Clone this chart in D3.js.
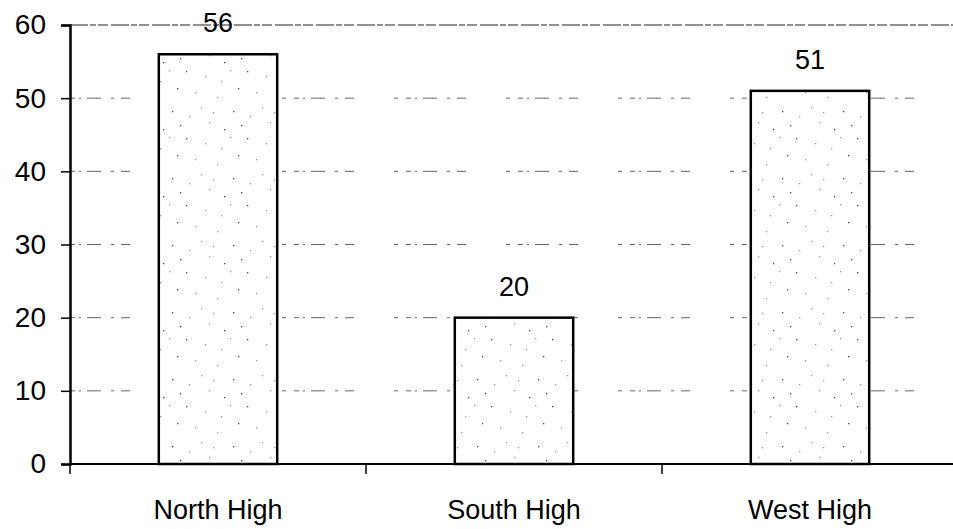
<!DOCTYPE html>
<html><head><meta charset="utf-8">
<script src="https://cdn.jsdelivr.net/npm/d3@7"></script>
<style>html,body{margin:0;padding:0;background:#fff}svg{display:block}</style>
</head><body>
<script>
const categories = ["North High", "South High", "West High"];
const values = [56, 20, 51];
const yTicks = [0, 10, 20, 30, 40, 50, 60];

const W = 953, H = 529;
const svg = d3.select("body").append("svg").attr("width", W).attr("height", H);

const x = d3.scaleBand().domain(categories).range([70, 958]).paddingInner(0.6).paddingOuter(0.3);
const y = d3.scaleLinear().domain([0, 60]).range([464, 25]);

// stipple pattern
const defs = svg.append("defs");
const pat = defs.append("pattern").attr("id", "stip").attr("patternUnits", "userSpaceOnUse")
  .attr("width", 61).attr("height", 67);
pat.append("rect").attr("width", 61).attr("height", 67).attr("fill", "#fff");
[[3,4],[22,9],[47,3],[55,21],[12,25],[34,30],[50,44],[6,49],[26,55],[41,62],[18,40],[38,14],[58,58],[30,45]].forEach(([a,b],i)=>{
  pat.append("rect").attr("x", a).attr("y", b).attr("width", 1.3).attr("height", 1.3)
    .attr("fill", i % 3 === 0 ? "#444" : "#999");
});

// gridlines
const gridY = yTicks.filter(t => t > 0);
svg.append("g").selectAll("line").data(gridY).join("line")
  .attr("x1", 70).attr("x2", W).attr("y1", d => y(d)).attr("y2", d => y(d))
  .attr("stroke", d => d === 60 ? "#222" : "#666")
  .attr("stroke-width", d => d === 60 ? 1.2 : 1)
  .attr("stroke-dasharray", d => d === 60 ? "18,2,6,2,10,3" : "5,4,2,6,14,10,3,7,9,40,4,8");

// bars
svg.append("g").selectAll("rect").data(values).join("rect")
  .attr("x", (d, i) => x(categories[i]))
  .attr("width", x.bandwidth())
  .attr("y", d => y(d))
  .attr("height", d => y(0) - y(d))
  .attr("fill", "url(#stip)")
  .attr("stroke", "#000").attr("stroke-width", 2.5);

// value labels
svg.append("g").selectAll("text").data(values).join("text")
  .attr("x", (d, i) => x(categories[i]) + x.bandwidth() / 2)
  .attr("y", d => y(d) - 22)
  .attr("text-anchor", "middle")
  .attr("font-family", "Liberation Sans, Arial, sans-serif")
  .attr("font-size", 27)
  .text(d => d);

// y axis
const yAxis = svg.append("g").attr("transform", "translate(70,0)")
  .call(d3.axisLeft(y).tickValues(yTicks).tickSize(9).tickPadding(15));
yAxis.select(".domain").attr("stroke", "#000").attr("stroke-width", 2.5);
yAxis.selectAll(".tick line").attr("stroke", "#000").attr("stroke-width", 1.5);
yAxis.selectAll("text").attr("font-family", "Liberation Sans, Arial, sans-serif")
  .attr("font-size", 28).attr("fill", "#000");

// x axis
const xAxis = svg.append("g").attr("transform", "translate(0,464)")
  .call(d3.axisBottom(x).tickSize(0).tickPadding(36));
xAxis.select(".domain").remove();
xAxis.append("line").attr("x1", 70).attr("x2", W).attr("stroke", "#000").attr("stroke-width", 2);
const bounds = [70].concat(categories.slice(1).map(c => x(c) - x.step() * x.paddingInner() / 2));
xAxis.selectAll(".bt").data(bounds).join("line").attr("class", "bt")
  .attr("x1", d => d).attr("x2", d => d).attr("y1", 0).attr("y2", 10)
  .attr("stroke", "#000").attr("stroke-width", 1.5);
xAxis.selectAll("text").attr("font-family", "Liberation Sans, Arial, sans-serif")
  .attr("font-size", 27).attr("fill", "#000").attr("dy", "0.71em");
</script>
</body></html>
